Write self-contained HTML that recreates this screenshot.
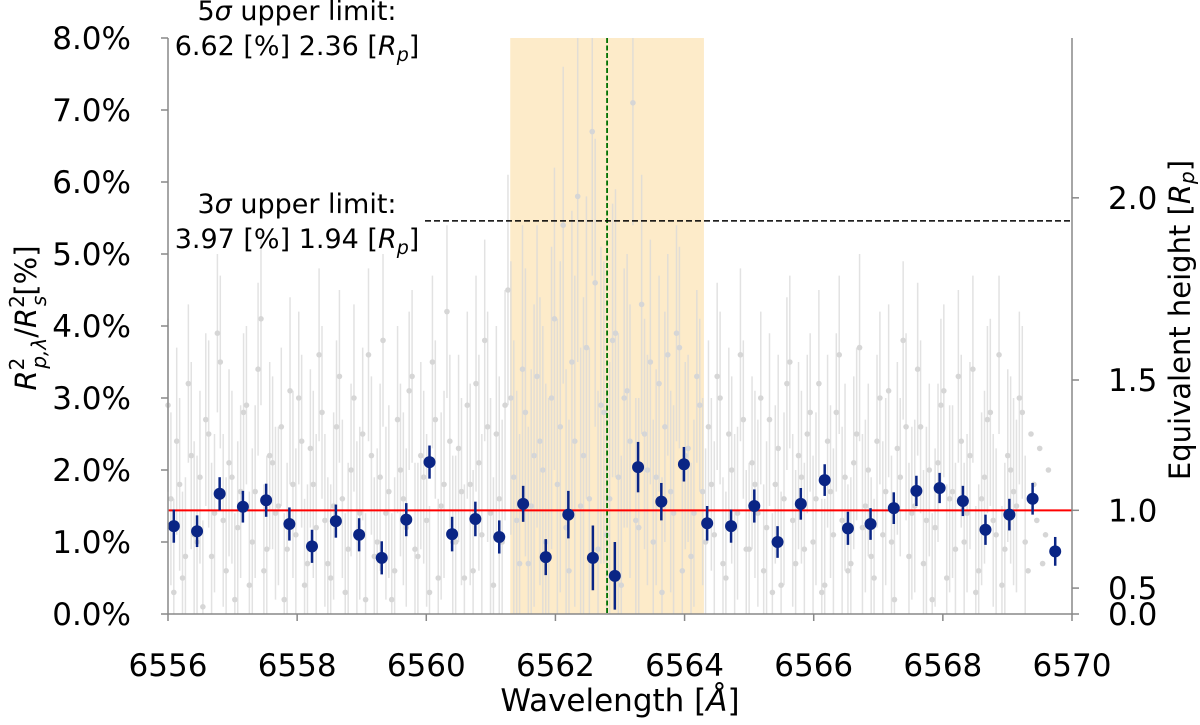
<!DOCTYPE html>
<html><head><meta charset="utf-8"><style>
body{margin:0;background:#fff;}
svg text{font-family:"DejaVu Sans","Liberation Sans",sans-serif;fill:#000;}
</style></head><body>
<svg id="chart" width="1200" height="720" viewBox="0 0 1200 720" xmlns="http://www.w3.org/2000/svg">
<g id="bg"></g>
<g id="gray"></g>
<g id="ref"></g>
<g id="blue"></g>
<g id="axes"></g>
<text x="297" y="20" font-size="27" text-anchor="middle">5<tspan font-style="italic">σ</tspan> upper limit:</text>
<text x="297" y="55" font-size="27" text-anchor="middle">6.62 [%] 2.36 [<tspan font-style="italic">R</tspan><tspan font-style="italic" font-size="19" dy="6">p</tspan><tspan dy="-6">]</tspan></text>
<text x="297" y="213" font-size="27" text-anchor="middle">3<tspan font-style="italic">σ</tspan> upper limit:</text>
<text x="297" y="248" font-size="27" text-anchor="middle">3.97 [%] 1.94 [<tspan font-style="italic">R</tspan><tspan font-style="italic" font-size="19" dy="6">p</tspan><tspan dy="-6">]</tspan></text>
<text x="620" y="711" font-size="31" text-anchor="middle">Wavelength [<tspan font-style="italic">Å</tspan>]</text>
<text transform="translate(36,318) rotate(-90)" font-size="29" text-anchor="middle"><tspan font-style="italic">R</tspan><tspan font-size="20" dy="-12">2</tspan><tspan font-size="20" font-style="italic" dx="-11" dy="22">p,λ</tspan><tspan dy="-10">/</tspan><tspan font-style="italic">R</tspan><tspan font-size="20" dy="-12">2</tspan><tspan font-size="20" font-style="italic" dx="-11" dy="22">s</tspan><tspan dy="-10">[%]</tspan></text>
<text transform="translate(1190,320) rotate(-90)" font-size="29" text-anchor="middle">Equivalent height [<tspan font-style="italic">R</tspan><tspan font-style="italic" font-size="20" dy="4">p</tspan><tspan dy="-4">]</tspan></text>
</svg>
<script>
const binWl=[6556.09,6556.45,6556.80,6557.16,6557.52,6557.88,6558.23,6558.60,6558.96,6559.31,6559.69,6560.05,6560.40,6560.76,6561.13,6561.50,6561.85,6562.20,6562.58,6562.92,6563.28,6563.64,6563.99,6564.35,6564.72,6565.08,6565.44,6565.80,6566.17,6566.53,6566.88,6567.24,6567.59,6567.95,6568.31,6568.66,6569.03,6569.39,6569.74];
const binVal=[1.22,1.15,1.67,1.49,1.58,1.25,0.94,1.29,1.10,0.78,1.31,2.11,1.11,1.32,1.07,1.53,0.79,1.38,0.78,0.53,2.04,1.56,2.08,1.26,1.22,1.50,1.00,1.53,1.86,1.19,1.25,1.47,1.71,1.75,1.57,1.17,1.38,1.60,0.87];
const binErr=[0.23,0.22,0.23,0.22,0.23,0.23,0.23,0.23,0.23,0.23,0.23,0.23,0.24,0.24,0.23,0.25,0.25,0.33,0.45,0.47,0.35,0.26,0.24,0.24,0.23,0.23,0.22,0.22,0.22,0.23,0.22,0.22,0.21,0.21,0.21,0.21,0.22,0.22,0.20];
const rawVal=[2.9,0.3,1.8,0.8,2.2,1.0,0.1,2.5,1.4,3.5,0.6,1.9,1.2,2.8,0.4,1.7,4.1,0.9,2.1,1.5,0.2,3.1,1.1,2.4,0.7,1.8,3.6,1.3,0.5,2.6,1.6,0.9,3.0,1.4,0.2,2.2,1.0,3.8,1.7,0.6,2.0,1.2,3.3,0.8,1.9,0.3,2.7,1.5,4.2,1.0,
2.3,0.5,1.8,3.2,1.1,2.6,0.4,1.6,2.9,3.0,1.3,3.4,0.7,2.2,2.4,1.0,3.0,1.8,5.4,0.6,2.4,1.5,3.7,6.7,0.9,2.8,1.6,3.9,0.4,3.1,7.1,1.2,2.5,3.5,1.9,0.3,3.6,1.4,3.7,2.2,0.8,3.3,1.7,2.6,1.1,3.0,0.5,2.0,1.4,2.7,
0.9,1.8,3.0,1.2,0.3,2.3,1.6,3.5,0.7,1.9,2.5,1.0,3.2,0.4,1.7,2.8,1.3,0.6,2.1,3.7,1.5,0.8,2.4,1.1,3.1,0.2,1.9,2.6,1.4,3.4,0.7,2.0,1.2,2.9,0.5,1.7,3.3,1.0,2.2,0.3,1.6,2.7,1.3,3.6,0.9,2.0,1.5,2.8,0.6,1.8,2.3,1.1];
const rawVal2=[1.6,2.4,0.5,3.2,1.1,1.9,2.7,0.8,3.9,1.3,2.1,0.2,1.7,2.9,1.0,3.4,0.6,2.2,1.4,2.6,0.9,1.8,3.0,0.4,2.3,1.2,2.8,0.7,1.5,3.3,0.3,2.0,1.1,2.5,3.6,0.8,1.9,1.4,0.2,2.7,1.6,3.1,0.9,2.2,1.3,3.5,0.5,1.8,2.4,1.0,
1.7,2.9,0.6,2.1,3.8,1.4,2.5,1.0,4.5,1.9,0.7,2.8,1.5,3.3,2.0,0.8,4.1,2.6,1.2,3.5,5.8,2.2,1.6,4.6,2.9,1.1,3.8,1.9,3.0,2.4,1.3,4.3,2.0,1.0,3.2,2.6,1.7,3.9,0.6,2.3,1.4,2.9,1.0,1.8,3.3,0.7,2.5,1.2,3.6,0.9,
2.1,1.4,0.6,2.7,1.8,0.4,3.2,1.3,2.2,0.9,2.8,1.6,0.3,2.4,1.1,3.6,1.9,0.7,2.5,1.2,2.0,0.5,3.0,1.7,1.0,2.3,3.8,0.8,1.5,2.6,1.3,0.2,2.1,3.1,1.6,0.9,2.4,1.4,3.4,0.6,1.9,2.8,1.1,0.4,2.2,1.7,3.0,1.0,2.5,1.3,0.7,2.0];
const rawErr=[1.2,1.3,1.2,1.1,1.3,1.2,1.2,1.3,1.1,1.2,1.3,1.2,1.2,1.1,1.3,1.2,1.2,1.3,1.2,1.1,1.2,1.3,1.2,1.2,1.1,1.3,1.2,1.2,1.3,1.2,1.1,1.2,1.3,1.2,1.2,1.1,1.3,1.2,1.2,1.3,1.2,1.1,1.2,1.3,1.2,1.2,1.1,1.3,1.2,1.2,
1.3,1.3,1.4,1.5,1.4,1.6,1.5,1.7,1.6,1.9,1.8,2.0,1.9,2.1,2.0,2.2,2.1,2.3,2.2,2.1,2.3,2.2,2.1,2.0,2.2,2.1,1.9,2.0,1.8,1.9,1.7,1.8,1.6,1.7,1.5,1.6,1.4,1.5,1.4,1.3,1.3,1.2,1.3,1.2,1.3,1.2,1.2,1.3,1.2,1.1,
1.2,1.3,1.2,1.2,1.1,1.3,1.2,1.2,1.3,1.2,1.1,1.2,1.3,1.2,1.2,1.1,1.3,1.2,1.2,1.3,1.2,1.1,1.2,1.3,1.2,1.2,1.1,1.3,1.2,1.2,1.3,1.2,1.1,1.2,1.3,1.2,1.2,1.1,1.3,1.2,1.2,1.3,1.2,1.1,1.2,1.3,1.2,1.2];
const rawStart=[6556.0,6556.045], rawStep=[0.09];
const xTicks=[6556,6558,6560,6562,6564,6566,6568,6570];
const yTicks=[0,1,2,3,4,5,6,7,8];
const rightTickLabels=["0.0","0.5","1.0","1.5","2.0"];
const rightTickVals=[0.0,0.36,1.44,3.25,5.78];
const meanLevel=[1.44];
const limit3=[5.46];
const lineCenter=[6562.8];
const band=[6561.3,6564.3];

const NS="http://www.w3.org/2000/svg";
const X0=168,X1=1072,Y0=614,Y8=38;
const sx=w=>X0+(w-6556)/(6570-6556)*(X1-X0);
const sy=v=>Y0-v/8*(Y0-Y8);
function mk(parent,tag,attrs){const e=document.createElementNS(NS,tag);for(const k in attrs)e.setAttribute(k,attrs[k]);document.getElementById(parent).appendChild(e);return e;}

let e=mk('bg','rect',{x:sx(band[0]),y:Y8,width:sx(band[1])-sx(band[0]),height:Y0-Y8,fill:'#fdebc9'});



function drawRaw(vals,start){
 vals.forEach((v,i)=>{const x=sx(start+i*rawStep[0]);
  if(x>X1)return;
  const l=mk('gray','line',{x1:x,x2:x,y1:sy(Math.max(0,v-rawErr[i])),y2:sy(Math.min(8,v+rawErr[i])),stroke:'#d9d9d9','stroke-width':1.5,opacity:0.75});
  
  
  const c=mk('gray','circle',{cx:x,cy:sy(v),r:2.8,fill:'#d6d6d6'});
  
  
 });
}
drawRaw(rawVal,rawStart[0]);
drawRaw(rawVal2,rawStart[1]);

e=mk('ref','line',{x1:sx(lineCenter[0]),x2:sx(lineCenter[0]),y1:Y8,y2:Y0,stroke:'#007000','stroke-width':1.8,'stroke-dasharray':'5,2.5'});


e=mk('ref','line',{x1:425,x2:X1,y1:sy(limit3[0]),y2:sy(limit3[0]),stroke:'#000','stroke-width':1.5,'stroke-dasharray':'6,3'});


e=mk('ref','line',{x1:X0,x2:X1,y1:sy(meanLevel[0]),y2:sy(meanLevel[0]),stroke:'#ff0000','stroke-width':2});



binVal.forEach((v,i)=>{const x=sx(binWl[i]);
 const l=mk('blue','line',{x1:x,x2:x,y1:sy(v-binErr[i]),y2:sy(v+binErr[i]),stroke:'#0a2585','stroke-width':2.5});
 
 
 const c=mk('blue','circle',{cx:x,cy:sy(v),r:6,fill:'#0a2585'});
 
 
});

e=mk('axes','path',{d:`M${X0},${Y8}V${Y0}H${X1}V${Y8}`,fill:'none',stroke:'#888','stroke-width':1.5});


xTicks.forEach(t=>{const x=sx(t);
 const l=mk('axes','line',{x1:x,x2:x,y1:Y0,y2:Y0+7,stroke:'#888','stroke-width':1.5});
 
 
 const tx=mk('axes','text',{x:x,y:676,'font-size':31,'text-anchor':'middle'});tx.textContent=t;
 
 
});
yTicks.forEach(t=>{const y=sy(t);
 const l=mk('axes','line',{x1:X0-7,x2:X0,y1:y,y2:y,stroke:'#888','stroke-width':1.5});
 
 
 const tx=mk('axes','text',{x:131,y:y+11,'font-size':31,'text-anchor':'end'});tx.textContent=t.toFixed(1)+'%';
 
 
});
rightTickVals.forEach((v,i)=>{const y=sy(v);
 const l=mk('axes','line',{x1:X1,x2:X1+7,y1:y,y2:y,stroke:'#888','stroke-width':1.5});
 
 
 const tx=mk('axes','text',{x:1108,y:y+11,'font-size':31});tx.textContent=rightTickLabels[i];
 
 
});
</script>
</body></html>
